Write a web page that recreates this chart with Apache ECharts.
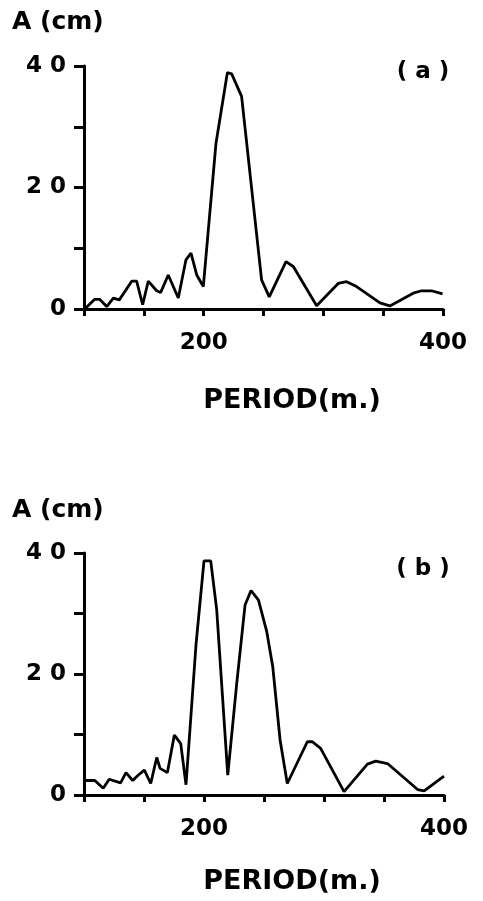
<!DOCTYPE html>
<html>
<head>
<meta charset="utf-8">
<script src="https://cdn.jsdelivr.net/npm/echarts@6/dist/echarts.min.js"></script>
<style>
html,body{margin:0;padding:0;background:#fff;}
#chart{width:483px;height:901px;}
</style>
</head>
<body>
<div id="chart"></div>
<script>
// Panel (a)
const periodA = [101,109,113,119,124.5,129.5,140,144,149,153.7,160.7,164,170.4,178.8,185.2,189.4,194.2,199.7,210.3,219.8,223.4,231.7,248.4,254.8,268.8,274.9,294.4,312.4,319.4,327.8,347.3,355.6,375.1,382.1,390.4,399.6];
const ampA = [0.1,1.6,1.6,0.4,1.8,1.5,4.6,4.6,0.7,4.6,3.0,2.7,5.6,1.8,8.1,9.2,5.6,3.7,27.3,38.9,38.7,35,4.8,2.0,7.8,7.0,0.55,4.2,4.5,3.7,1.0,0.5,2.6,3.0,3.0,2.5];
// Panel (b)
const periodB = [100.8,109,116,121,130.5,135,140.6,145.3,150.3,155.6,160.6,163.4,169.5,175.3,180.6,185,193.4,200,205.6,210.6,219.8,227.3,234.2,239.2,245.4,252.3,257.3,263.4,269.4,286.1,290.3,297.2,316.7,336.2,343.1,352.9,378,383.5,400];
const ampB = [2.4,2.4,1.1,2.6,2.0,3.7,2.4,3.3,4.1,1.9,6.2,4.4,3.7,9.9,8.5,1.7,25,38.7,38.7,30.6,3.3,18.5,31.4,33.8,32.2,27,21.2,9.1,1.9,8.8,8.8,7.7,0.55,5.1,5.6,5.2,0.9,0.7,3.1];
// Tick labels
const xTickLabels = {200: '200', 400: '400'};
const yTickLabels = {0: '0', 20: '2 0', 40: '4 0'};
const yAxisTitle = 'A (cm)';
const xAxisTitle = 'PERIOD(m.)';
const panelTags = ['( a )', '( b )'];

const FONT = 'DejaVu Sans';
const chart = echarts.init(document.getElementById('chart'), null, {renderer: 'canvas'});

function xAxis(gi) {
  return {
    type: 'value', gridIndex: gi, min: 100, max: 400, interval: 50,
    axisLine: {show: true, onZero: false, lineStyle: {color: '#000', width: 3}},
    axisTick: {show: true, inside: false, length: 7, lineStyle: {color: '#000', width: 3}},
    axisLabel: {show: true, margin: 23, color: '#000', fontFamily: FONT, fontWeight: 'bold', fontSize: 23,
      formatter: v => xTickLabels[v] || ''},
    splitLine: {show: false}
  };
}
function yAxis(gi) {
  return {
    type: 'value', gridIndex: gi, min: 0, max: 40, interval: 10,
    axisLine: {show: true, lineStyle: {color: '#000', width: 3}},
    axisTick: {show: true, inside: false, length: 10, lineStyle: {color: '#000', width: 3}},
    axisLabel: {show: true, margin: 18, color: '#000', fontFamily: FONT, fontWeight: 'bold', fontSize: 23,
      formatter: v => yTickLabels[v] || ''},
    splitLine: {show: false}
  };
}
function txt(x, y, text, size, align) {
  return {type: 'text', x: x, y: y, style: {text: text, fill: '#000', font: 'bold ' + size + 'px "' + FONT + '"', textAlign: align || 'left', textVerticalAlign: 'middle'}};
}

chart.setOption({
  animation: false,
  backgroundColor: '#fff',
  grid: [
    {left: 84, right: 40, top: 66, height: 243},
    {left: 84, right: 39, top: 553, height: 242}
  ],
  xAxis: [xAxis(0), xAxis(1)],
  yAxis: [yAxis(0), yAxis(1)],
  series: [
    {type: 'line', xAxisIndex: 0, yAxisIndex: 0, data: periodA.map((p, i) => [p, ampA[i]]),
      symbol: 'none', lineStyle: {color: '#000', width: 2.8}},
    {type: 'line', xAxisIndex: 1, yAxisIndex: 1, data: periodB.map((p, i) => [p, ampB[i]]),
      symbol: 'none', lineStyle: {color: '#000', width: 2.8}}
  ],
  graphic: [
    txt(12, 22, yAxisTitle, 25),
    txt(423, 72, panelTags[0], 23, 'center'),
    txt(292, 401, xAxisTitle, 27, 'center'),
    txt(12, 510, yAxisTitle, 25),
    txt(423, 569, panelTags[1], 23, 'center'),
    txt(292, 882, xAxisTitle, 27, 'center')
  ]
});
</script>
</body>
</html>
